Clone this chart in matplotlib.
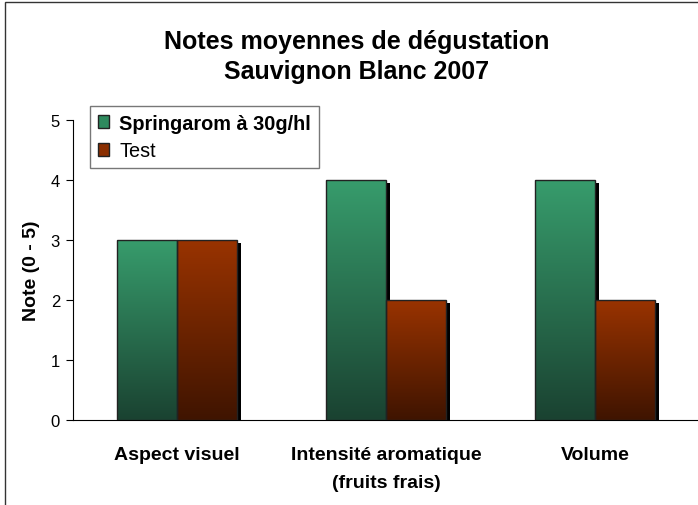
import numpy as np
import matplotlib.pyplot as plt
from matplotlib.patches import Rectangle
from matplotlib.colors import LinearSegmentedColormap

plt.rcParams['font.family'] = ['Liberation Sans', 'DejaVu Sans']

# ---------------------------------------------------------------------------
# Data
# ---------------------------------------------------------------------------
categories = ["Aspect visuel", "Intensité aromatique\n(fruits frais)", "Volume"]
springarom = [3, 4, 4]
test = [3, 2, 2]
series_names = ["Springarom à 30g/hl", "Test"]

GREEN_TOP, GREEN_BOT = "#379c6c", "#1a4231"
RED_TOP, RED_BOT = "#993300", "#3f1400"
BAR_W = 0.287

fig = plt.figure(figsize=(6.98, 5.06), dpi=100)
# outer frame like the Excel chart area
fig.patches.append(Rectangle((5 / 698, -0.01), 1.05, 1 - 3 / 506 + 0.01,
                             transform=fig.transFigure, fill=False,
                             edgecolor="#333333", linewidth=1.0))

ax = fig.add_axes([72.5 / 698, 1 - 421 / 506, 627 / 698, 300 / 506])
ax.set_xlim(-0.5, 2.5)
ax.set_ylim(0, 5)

x = np.arange(len(categories))
dx = 4 / 209   # shadow offset (px -> data)
dy = 3 / 60


def gradient_bar(x0, h, top, bot):
    cmap = LinearSegmentedColormap.from_list("g", [bot, top])
    grad = np.linspace(0, 1, 256).reshape(-1, 1)
    im = ax.imshow(grad, cmap=cmap, origin="lower", aspect="auto",
                   extent=(x0, x0 + BAR_W, 0, h), zorder=3)
    rect = Rectangle((x0, 0), BAR_W, h, fill=False, edgecolor="#222222",
                     linewidth=1.0, zorder=4)
    ax.add_patch(rect)
    return im


# shadows first
for xi, a, b in zip(x, springarom, test):
    for x0, h in ((xi - BAR_W, a), (xi, b)):
        ax.add_patch(Rectangle((x0 + dx, 0), BAR_W, h - dy, facecolor="black",
                               edgecolor="none", zorder=2))

for xi, a, b in zip(x, springarom, test):
    gradient_bar(xi - BAR_W, a, GREEN_TOP, GREEN_BOT)
    gradient_bar(xi, b, RED_TOP, RED_BOT)

ax.set_xlim(-0.5, 2.5)
ax.set_ylim(0, 5)

ax.spines["top"].set_visible(False)
ax.spines["right"].set_visible(False)
ax.spines["left"].set_color("black")
ax.spines["bottom"].set_color("black")
ax.set_yticks(range(6))
ax.tick_params(axis="y", direction="out", length=5, labelsize=12, pad=4)
ax.tick_params(axis="x", length=0, pad=19)
ax.set_xticks(x)
ax.set_xticklabels(categories, fontsize=14, fontweight="bold", linespacing=1.8)
ax.set_ylabel("Note (0 - 5)", fontsize=14, fontweight="bold", labelpad=8)

fig.text(357 / 698, 1 - 57 / 506, "Notes moyennes de dégustation\nSauvignon Blanc 2007",
         ha="center", va="center", fontsize=18, fontweight="bold", linespacing=1.3)

# legend
handles = [Rectangle((0, 0), 1, 1, facecolor="#2e8a5e", edgecolor="#222222"),
           Rectangle((0, 0), 1, 1, facecolor="#8a2e00", edgecolor="#222222")]
leg = fig.legend(handles, series_names, loc="upper left",
                 bbox_to_anchor=(90 / 698, 1 - 107 / 506), fontsize=14.3,
                 frameon=True, fancybox=False, edgecolor="#555555",
                 handlelength=0.6, handleheight=0.6, handletextpad=0.5,
                 borderpad=0.38, labelspacing=0.45, borderaxespad=0)
leg.get_frame().set_linewidth(1.0)
leg.get_texts()[0].set_fontweight("bold")

fig.savefig("out.png", dpi=100)
